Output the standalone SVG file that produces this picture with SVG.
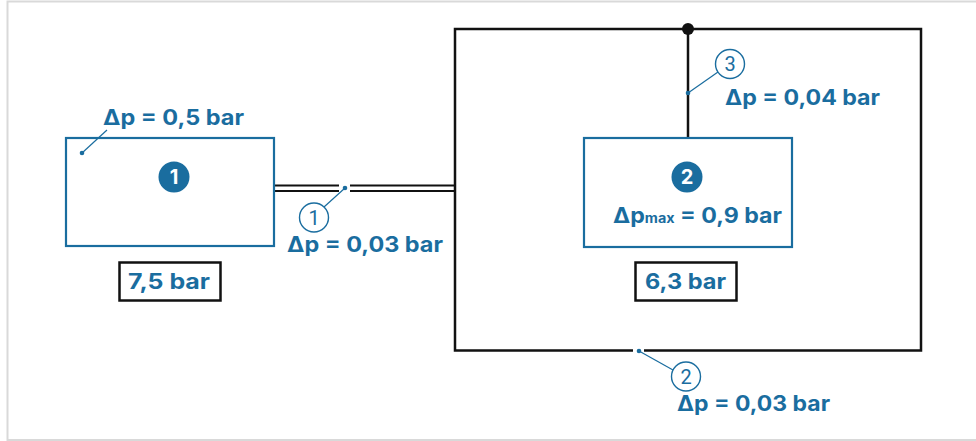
<svg xmlns="http://www.w3.org/2000/svg" width="976" height="441" viewBox="0 0 976 441">
<style>
.frame{fill:none;stroke:#d9d9d9;stroke-width:2}
.blue{fill:none;stroke:#1a6d9f;stroke-width:2.2}
.blk{fill:none;stroke:#111;stroke-width:2.5}
.pipe{fill:none;stroke:#111;stroke-width:2}
.lead{fill:none;stroke:#1a6d9f;stroke-width:1.2}
.dot{fill:#1a6d9f}
.lbl{font-family:Inter,Roboto,"Liberation Sans",sans-serif;font-weight:700;font-size:21px;fill:#1a6d9f}
.badge{fill:#1a6d9f}
.bnum{font-family:Inter,Roboto,"Liberation Sans",sans-serif;font-weight:700;font-size:20px;fill:#fff;text-anchor:middle}
.ring{fill:#fff;stroke:#1a6d9f;stroke-width:1.4}
.rnum{font-family:Roboto,"Liberation Sans",sans-serif;font-weight:400;font-size:20px;fill:#1a6d9f;text-anchor:middle}
</style>
<rect x="0" y="0" width="976" height="441" fill="#fff"/>
<path class="frame" d="M980 1.5 H7.5 V440 H980"/>

<g id="connectors">
  <path class="pipe" d="M274 185.5 H339 M350 185.5 H455 M274 191 H339 M350 191 H455"/>
  <path class="blk" d="M633 350.5 H455 V29 H921 V350.5 H644" stroke-linejoin="miter"/>
  <path class="blk" d="M688 29 V137"/>
  <circle cx="688" cy="29" r="6" fill="#111"/>
</g>

<g id="node1">
  <rect class="blue" x="66" y="138" width="208" height="108"/>
  <circle class="badge" cx="174" cy="177" r="15.5"/>
  <text class="bnum" x="174" y="184">1</text>
  <path class="lead" d="M107 130 L82 153"/>
  <circle class="dot" cx="82" cy="153" r="2.3"/>
  <text class="lbl" x="103" y="125" textLength="141" lengthAdjust="spacingAndGlyphs">Δp = 0,5 bar</text>
</g>

<g id="pressure1">
  <rect class="blk" x="119.5" y="262.5" width="101" height="38" stroke-width="2.2"/>
  <text class="lbl" x="128" y="289" textLength="82" lengthAdjust="spacingAndGlyphs">7,5 bar</text>
</g>

<g id="label-pipe1">
  <circle class="dot" cx="345" cy="188" r="2.3"/>
  <path class="lead" d="M345 188 L324 207"/>
  <circle class="ring" cx="314" cy="217.5" r="14.5"/>
  <text class="rnum" x="314" y="224.5">1</text>
  <text class="lbl" x="287" y="252" textLength="156" lengthAdjust="spacingAndGlyphs">Δp = 0,03 bar</text>
</g>

<g id="node2">
  <rect class="blue" x="584" y="138" width="208" height="109"/>
  <circle class="badge" cx="687" cy="177" r="15.5"/>
  <text class="bnum" x="687" y="184">2</text>
  <text class="lbl" x="613" y="222.5" textLength="169" lengthAdjust="spacingAndGlyphs">Δp<tspan font-size="13">max</tspan> = 0,9 bar</text>
</g>

<g id="pressure2">
  <rect class="blk" x="635.5" y="262.5" width="101" height="38" stroke-width="2.2"/>
  <text class="lbl" x="645" y="289" textLength="81" lengthAdjust="spacingAndGlyphs">6,3 bar</text>
</g>

<g id="label-pipe3">
  <circle class="dot" cx="688" cy="93" r="2.3"/>
  <path class="lead" d="M688 93 L718 72"/>
  <circle class="ring" cx="730" cy="64" r="14.5"/>
  <text class="rnum" x="730" y="71">3</text>
  <text class="lbl" x="725" y="105" textLength="155" lengthAdjust="spacingAndGlyphs">Δp = 0,04 bar</text>
</g>

<g id="label-pipe2">
  <circle class="dot" cx="639" cy="351" r="2.3"/>
  <path class="lead" d="M639 351 L673 370"/>
  <circle class="ring" cx="686" cy="376.5" r="14.5"/>
  <text class="rnum" x="686" y="383.5">2</text>
  <text class="lbl" x="677" y="410.5" textLength="153" lengthAdjust="spacingAndGlyphs">Δp = 0,03 bar</text>
</g>
</svg>
